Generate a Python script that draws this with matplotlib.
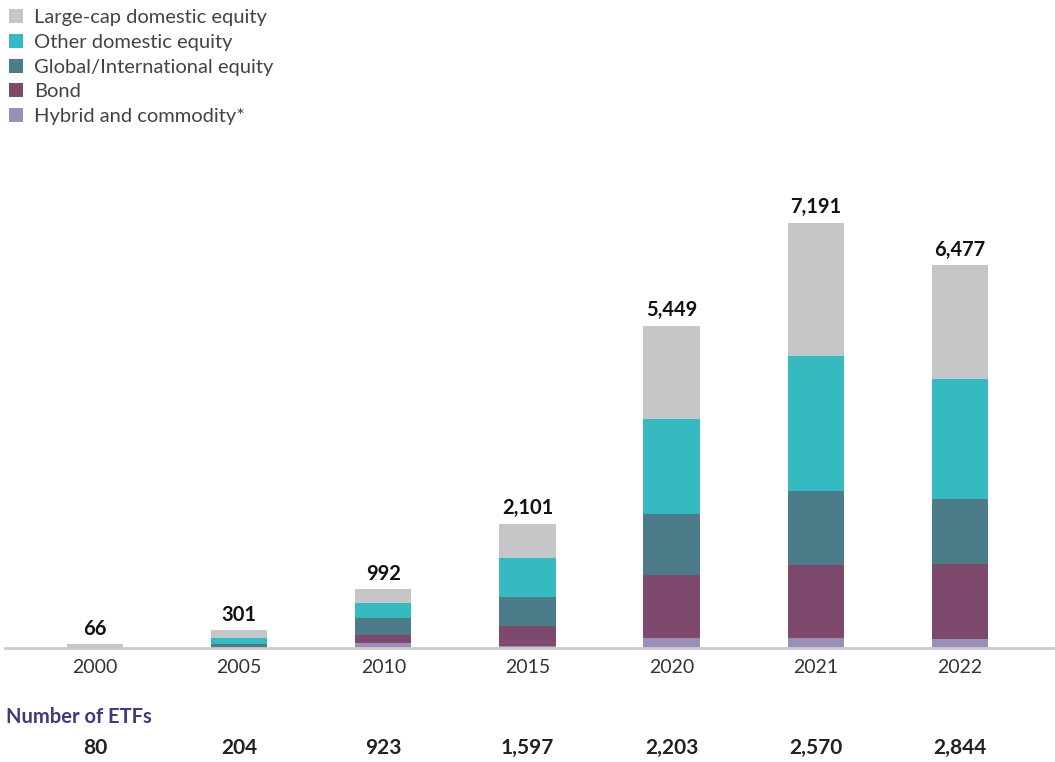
import matplotlib.pyplot as plt
import matplotlib.transforms as mtransforms
from matplotlib.patches import Patch

plt.rcParams["font.family"] = ["Lato", "DejaVu Sans"]

# Total net assets of ETFs by category (billions of dollars)
years = ["2000", "2005", "2010", "2015", "2020", "2021", "2022"]
hybrid = [0, 6, 85, 37, 170, 170, 152]
bond = [0, 10, 135, 338, 1066, 1235, 1274]
global_intl = [2, 50, 288, 491, 1032, 1252, 1095]
other_domestic = [12, 100, 254, 660, 1607, 2284, 2030]
large_cap = [52, 135, 230, 575, 1574, 2250, 1926]
totals = ["66", "301", "992", "2,101", "5,449", "7,191", "6,477"]
num_etfs = ["80", "204", "923", "1,597", "2,203", "2,570", "2,844"]

series = [
    ("Hybrid and commodity*", hybrid, "#9b8fba"),
    ("Bond", bond, "#7d4a6e"),
    ("Global/International equity", global_intl, "#4c7c8a"),
    ("Other domestic equity", other_domestic, "#36b9c0"),
    ("Large-cap domestic equity", large_cap, "#c5c6c8"),
]

fig = plt.figure(figsize=(10.55, 7.62), dpi=100)
ax = fig.add_axes([0.0047, 0.1496, 0.9953, 0.6205])

x = list(range(len(years)))
bottom = [0] * len(years)
for name, vals, color in series:
    ax.bar(x, vals, width=0.39, bottom=bottom, color=color, label=name, zorder=2)
    bottom = [b + v for b, v in zip(bottom, vals)]

for i, t in enumerate(totals):
    ax.annotate(t, (i, bottom[i]), xytext=(0, 4), textcoords="offset points",
                ha="center", va="bottom", fontsize=14.5, fontweight="bold", color="#111111")

ax.set_xlim(-0.625, 6.66)
ax.set_ylim(0, 8000)
ax.set_xticks(x)
ax.set_xticklabels(years, fontsize=14, color="#333333")
ax.tick_params(axis="x", length=0, pad=8)
ax.set_yticks([])
for s in ["top", "right", "left"]:
    ax.spines[s].set_visible(False)
ax.spines["bottom"].set_color("#cccccc")
ax.spines["bottom"].set_linewidth(2)
ax.spines["bottom"].set_zorder(3)

# number of ETFs row below the axis
trans = mtransforms.blended_transform_factory(ax.transData, fig.transFigure)
fig.text(0.006, 1 - 717 / 762, "Number of ETFs", fontsize=14.5, fontweight="bold",
         color="#3f3b7c", va="center", ha="left")
for i, n in enumerate(num_etfs):
    ax.text(i, 1 - 748 / 762, n, transform=trans, ha="center", va="center",
            fontsize=15, fontweight="bold", color="#222222")

# legend, top-left, in listed order
handles = [Patch(facecolor=c, label=n) for n, _, c in series[::-1]]
fig.legend(handles=handles, loc="upper left", bbox_to_anchor=(0.0, 1.0),
           frameon=False, fontsize=14.5, handlelength=0.7, handleheight=0.7,
           handletextpad=0.55, labelspacing=0.38, borderaxespad=0.05,
           borderpad=0.4, labelcolor="#444444")

fig.savefig("out.png", dpi=100)
